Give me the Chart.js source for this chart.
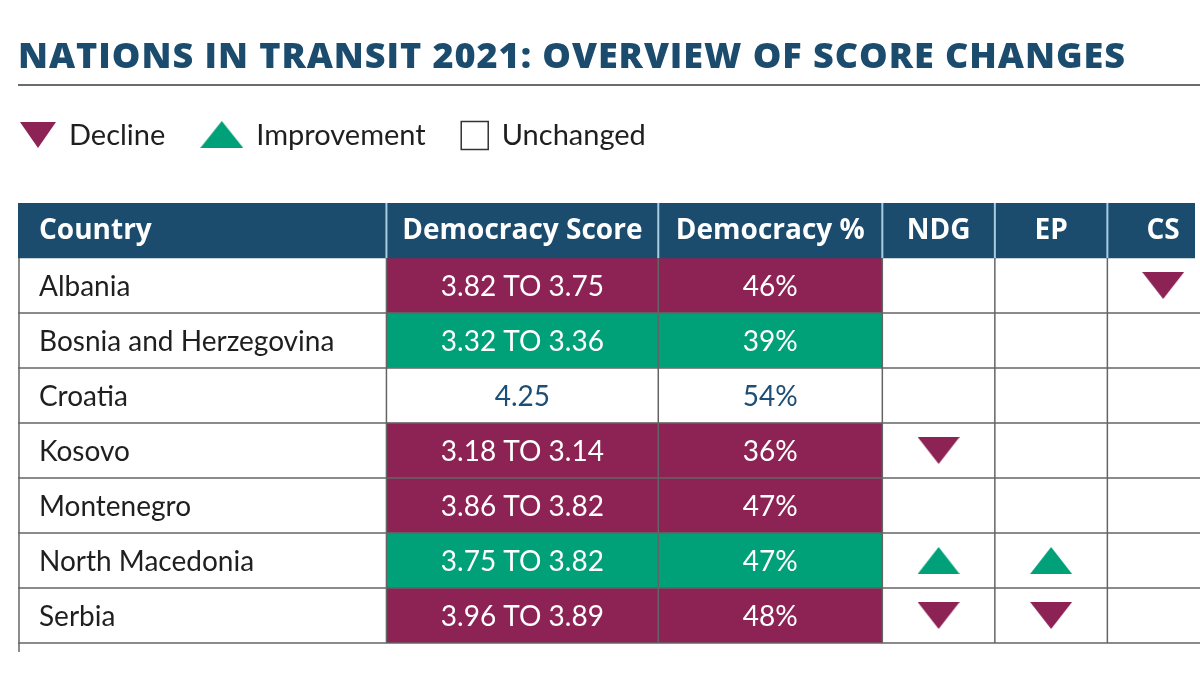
<!DOCTYPE html>
<html>
<head>
<meta charset="utf-8">
<script src="https://cdn.jsdelivr.net/npm/chart.js@4"></script>
<style>
  html, body { margin: 0; padding: 0; background: #fff; }
</style>
</head>
<body>
<canvas id="scoreTable" width="1200" height="675"></canvas>
<script>
// Table content
const titleText = 'NATIONS IN TRANSIT 2021: OVERVIEW OF SCORE CHANGES';
const legendLabels = ['Decline', 'Improvement', 'Unchanged'];
const columnTitles = ['Country', 'Democracy Score', 'Democracy %', 'NDG', 'EP', 'CS'];
const countries = ['Albania', 'Bosnia and Herzegovina', 'Croatia', 'Kosovo', 'Montenegro', 'North Macedonia', 'Serbia'];
const scoreFrom = [3.82, 3.32, 4.25, 3.18, 3.86, 3.75, 3.96];
const scoreTo = [3.75, 3.36, 4.25, 3.14, 3.82, 3.82, 3.89];
const democracyPct = [46, 39, 54, 36, 47, 47, 48];
// -1 = decline, 1 = improvement, 0 = unchanged
const ndgChange = [0, 0, 0, -1, 0, 1, -1];
const epChange = [0, 0, 0, 0, 0, 1, -1];
const csChange = [-1, 0, 0, 0, 0, 0, 0];

// Layout: x units are pixels from the table's left edge
const colEdges = [0, 370, 643, 868, 981, 1094, 1206];
const COLORS = {
    header: '#1b4c6e',
    decline: '#8d2354',
    improve: '#00a078',
    unchangedText: '#1d4f76',
    text: '#1f1f1f',
    grid: '#646464',
    headerGrid: '#a9cce2'
};
const bodyFont = '"Lato", "Open Sans", sans-serif';
const boldFont = '"Open Sans", "Lato", sans-serif';
const titleWidth = 1107;

const rowLabels = [columnTitles[0]].concat(countries);

function colCenter(c) {
    return (colEdges[c] + colEdges[c + 1]) / 2;
}

function scoreStatus(i) {
    if (scoreTo[i] < scoreFrom[i]) return -1;
    if (scoreTo[i] > scoreFrom[i]) return 1;
    return 0;
}

function statusColor(s) {
    if (s < 0) return COLORS.decline;
    if (s > 0) return COLORS.improve;
    return '#ffffff';
}

function scoreText(i) {
    if (scoreFrom[i] === scoreTo[i]) return scoreFrom[i].toFixed(2);
    return scoreFrom[i].toFixed(2) + ' TO ' + scoreTo[i].toFixed(2);
}

// Triangle markers as small canvases (flatter than Chart.js' own triangle)
function makeTriangle(w, h, color, down) {
    const c = document.createElement('canvas');
    c.width = w;
    c.height = h;
    const g = c.getContext('2d');
    g.fillStyle = color;
    g.beginPath();
    if (down) {
        g.moveTo(0, 0); g.lineTo(w, 0); g.lineTo(w / 2, h);
    } else {
        g.moveTo(w / 2, 0); g.lineTo(w, h); g.lineTo(0, h);
    }
    g.closePath();
    g.fill();
    return c;
}

const downMark = makeTriangle(42, 27, COLORS.decline, true);
const upMark = makeTriangle(42, 27, COLORS.improve, false);

// Points for the NDG / EP / CS columns
const changeColumns = [[ndgChange, 3], [epChange, 4], [csChange, 5]];
function changePoints(sign) {
    const pts = [];
    changeColumns.forEach(function(entry) {
        entry[0].forEach(function(v, i) {
            if (v === sign) pts.push({ x: colCenter(entry[1]), y: countries[i] });
        });
    });
    return pts;
}

// Title, rule and legend above the table
const headerPlugin = {
    id: 'headerPlugin',
    beforeDraw(chart) {
        const ctx = chart.ctx;
        ctx.save();
        ctx.fillStyle = '#ffffff';
        ctx.fillRect(0, 0, chart.width, chart.height);

        ctx.fillStyle = COLORS.header;
        ctx.font = '800 36px ' + boldFont;
        ctx.textAlign = 'left';
        ctx.textBaseline = 'alphabetic';
        // spread the letters a little so the title spans the same width as the original
        const natural = ctx.measureText(titleText).width;
        ctx.letterSpacing = Math.max(0, (titleWidth - natural) / (titleText.length - 1)).toFixed(2) + 'px';
        ctx.fillText(titleText, 18, 68);
        ctx.letterSpacing = '0px';

        ctx.strokeStyle = '#3a3a3a';
        ctx.lineWidth = 1.5;
        ctx.beginPath();
        ctx.moveTo(18, 85);
        ctx.lineTo(chart.width, 85);
        ctx.stroke();

        // legend
        const cy = 135;
        let x = 20;
        ctx.font = '29px ' + bodyFont;
        ctx.textBaseline = 'middle';
        legendLabels.forEach(function(label, i) {
            let w;
            if (i === 0) {
                w = 36;
                ctx.drawImage(makeTriangle(w, 26, COLORS.decline, true), x, cy - 13);
            } else if (i === 1) {
                w = 43;
                ctx.drawImage(makeTriangle(w, 27, COLORS.improve, false), x, cy - 14);
            } else {
                w = 28;
                ctx.strokeStyle = '#333';
                ctx.lineWidth = 1.5;
                ctx.strokeRect(x + 0.5, cy - 13.5, w - 1, 28);
            }
            x += w + 13;
            ctx.fillStyle = COLORS.text;
            ctx.fillText(label, x, cy + 1);
            x += ctx.measureText(label).width + 35;
        });
        ctx.restore();
    }
};

// Grid lines and cell texts
const cellPlugin = {
    id: 'cellPlugin',
    afterDatasetsDraw(chart) {
        const ctx = chart.ctx;
        const xs = chart.scales.x;
        const ys = chart.scales.y;
        const area = chart.chartArea;
        const rowH = ys.getPixelForValue(1) - ys.getPixelForValue(0);
        const headerBottom = ys.getPixelForValue(0) + rowH / 2;
        ctx.save();

        // horizontal lines
        ctx.strokeStyle = COLORS.grid;
        ctx.lineWidth = 1.5;
        for (let r = 1; r < rowLabels.length; r++) {
            const y = ys.getPixelForValue(r) + rowH / 2;
            ctx.beginPath();
            ctx.moveTo(xs.getPixelForValue(colEdges[0]), y);
            ctx.lineTo(chart.width, y);
            ctx.stroke();
        }
        // vertical lines in the body
        for (let c = 0; c < colEdges.length - 1; c++) {
            const x = xs.getPixelForValue(colEdges[c]) + (c === 0 ? 1 : 0);
            ctx.beginPath();
            ctx.moveTo(x, headerBottom);
            ctx.lineTo(x, area.bottom + (c === 0 ? 9 : 0));
            ctx.stroke();
        }
        // header separators
        ctx.strokeStyle = COLORS.headerGrid;
        ctx.lineWidth = 2;
        for (let c = 1; c < colEdges.length - 1; c++) {
            const x = xs.getPixelForValue(colEdges[c]);
            ctx.beginPath();
            ctx.moveTo(x, area.top);
            ctx.lineTo(x, headerBottom);
            ctx.stroke();
        }

        // header titles
        ctx.textBaseline = 'middle';
        ctx.fillStyle = '#ffffff';
        ctx.font = '700 28px ' + boldFont;
        const hy = ys.getPixelForValue(0) + 1;
        columnTitles.forEach(function(t, c) {
            if (c === 0) {
                ctx.textAlign = 'left';
                ctx.fillText(t, xs.getPixelForValue(colEdges[0]) + 21, hy);
            } else {
                ctx.textAlign = 'center';
                ctx.fillText(t, xs.getPixelForValue(colCenter(c)), hy);
            }
        });

        // body texts
        ctx.font = '28px ' + bodyFont;
        countries.forEach(function(name, i) {
            const y = ys.getPixelForValue(name) + 1;
            ctx.textAlign = 'left';
            ctx.fillStyle = COLORS.text;
            ctx.fillText(name, xs.getPixelForValue(colEdges[0]) + 21, y);

            const s = scoreStatus(i);
            ctx.textAlign = 'center';
            ctx.fillStyle = s === 0 ? COLORS.unchangedText : '#ffffff';
            ctx.fillText(scoreText(i), xs.getPixelForValue(colCenter(1)), y);
            ctx.fillText(democracyPct[i] + '%', xs.getPixelForValue(colCenter(2)), y);
        });
        ctx.restore();
    }
};

const cellOptions = {
    type: 'bar',
    indexAxis: 'y',
    grouped: false,
    barPercentage: 1,
    categoryPercentage: 1,
    borderWidth: 0
};

new Chart(document.getElementById('scoreTable'), {
    type: 'bar',
    data: {
        labels: rowLabels,
        datasets: [
            Object.assign({
                label: 'header',
                data: [{ y: rowLabels[0], x: [colEdges[0], colEdges[colEdges.length - 1]] }],
                backgroundColor: COLORS.header
            }, cellOptions),
            Object.assign({
                label: 'Democracy Score',
                data: countries.map(function(c) { return { y: c, x: [colEdges[1], colEdges[2]] }; }),
                backgroundColor: countries.map(function(c, i) { return statusColor(scoreStatus(i)); })
            }, cellOptions),
            Object.assign({
                label: 'Democracy %',
                data: countries.map(function(c) { return { y: c, x: [colEdges[2], colEdges[3]] }; }),
                backgroundColor: countries.map(function(c, i) { return statusColor(scoreStatus(i)); })
            }, cellOptions),
            {
                type: 'scatter',
                label: 'Decline',
                data: changePoints(-1),
                pointStyle: downMark,
                showLine: false
            },
            {
                type: 'scatter',
                label: 'Improvement',
                data: changePoints(1),
                pointStyle: upMark,
                showLine: false
            }
        ]
    },
    options: {
        responsive: false,
        animation: false,
        events: [],
        indexAxis: 'y',
        layout: {
            padding: { top: 203, left: 18, right: 0, bottom: 32 }
        },
        scales: {
            x: { type: 'linear', display: false, min: 0, max: 1182 },
            y: { type: 'category', labels: rowLabels, display: false, offset: true }
        },
        plugins: {
            legend: { display: false },
            tooltip: { enabled: false }
        }
    },
    plugins: [headerPlugin, cellPlugin]
});
</script>
</body>
</html>
